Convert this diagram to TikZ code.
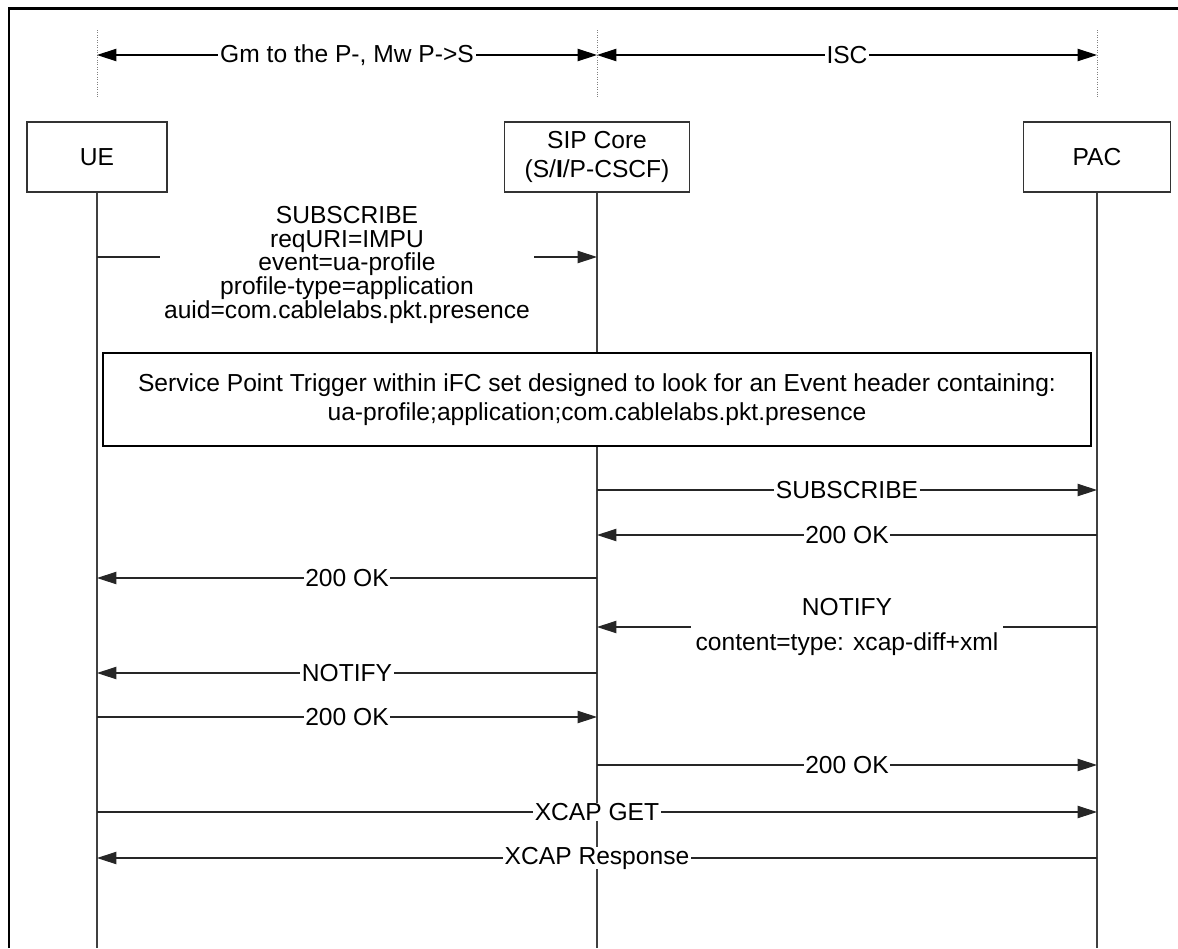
\documentclass[tikz,border=0pt]{standalone}
\usepackage{fontspec}
\setmainfont{Liberation Sans}
\usetikzlibrary{arrows.meta,shadows}
\begin{document}
\begin{tikzpicture}[x=0.02cm, y=-0.02cm,
  font=\fontsize{14}{16.2}\selectfont,
  actor/.style={draw=black!80, line width=0.6pt, fill=white, align=center, minimum height=1.4cm},
  life/.style={draw=black!75, line width=0.6pt},
  tick/.style={draw=gray, line width=0.4pt, densely dotted},
  msg/.style={draw=black!85, line width=0.6pt, -{Triangle[length=11pt,width=7pt]}},
  span/.style={draw=black, line width=0.6pt, {Triangle[length=11pt,width=7pt]}-{Triangle[length=11pt,width=7pt]}},
  lbl/.style={fill=white, inner xsep=1pt, inner ysep=0pt},
  mlbl/.style={fill=white, align=center, inner xsep=2.5pt, inner ysep=1pt},
  note/.style={draw=black, line width=0.7pt, fill=white, align=center,
    font=\fontsize{14}{16.6}\selectfont,
    drop shadow={shadow xshift=0.8pt, shadow yshift=-0.8pt, fill=black, opacity=1}}]
\useasboundingbox (0,0) rectangle (1178,948);

% Frame
\draw[line width=1.7pt] (9,948) -- (9,8) -- (1178,8);

% Interfaces
\foreach \n/\x in {ue/97, core/597, pac/1097} {
  \coordinate (\n-top) at (\x,30);
  \coordinate (\n-bot) at (\x,98);
  \coordinate (\n-dim) at (\x,55);
  \coordinate (\n-end) at (\x,948);
}
\foreach \n in {ue, core, pac} \draw[tick] (\n-top) -- (\n-bot);
\draw[span] (ue-dim) -- node[lbl] {Gm to the P-, Mw P->S} (core-dim);
\draw[span] (core-dim) -- node[lbl] {ISC} (pac-dim);

% Entities
\node[actor, minimum width=2.8cm] (ue) at (97,157) {UE};
\node[actor, minimum width=3.7cm] (core) at (597,157) {SIP Core\\(S/\textbf{I}/P-CSCF)};
\node[actor, minimum width=2.94cm] (pac) at (1097,157) {PAC};

% Lifelines
\draw[life] (ue) -- (ue-end);
\draw[life] (core) -- (core-end);
\draw[life] (pac) -- (pac-end);

% Message rows
\foreach \r/\y in {a/257, b/490, c/535, d/578, e/627, f/673, g/717, h/765, i/812, j/858} {
  \coordinate (ue-\r) at (97,\y);
  \coordinate (core-\r) at (597,\y);
  \coordinate (pac-\r) at (1097,\y);
}

\draw[msg] (ue-a) -- node[mlbl, yshift=-4.5pt, font=\fontsize{14}{13.6}\selectfont]
  {SUBSCRIBE\\reqURI=IMPU\\event=ua-profile\\profile-type=application\\auid=com.cablelabs.pkt.presence} (core-a);

% Trigger
\node[note, minimum width=19.76cm, minimum height=1.86cm] (spt) at (597,399.5)
  {Service Point Trigger within iFC set designed to look for an Event header containing:\\ua-profile;application;com.cablelabs.pkt.presence};

\draw[msg] (core-b) -- node[lbl] {SUBSCRIBE} (pac-b);
\draw[msg] (pac-c) -- node[lbl] {200 OK} (core-c);
\draw[msg] (core-d) -- node[lbl] {200 OK} (ue-d);
\draw[msg] (pac-e) -- node[mlbl, font=\fontsize{14}{19.8}\selectfont] {NOTIFY\\content=type: xcap-diff+xml} (core-e);
\draw[msg] (core-f) -- node[lbl] {NOTIFY} (ue-f);
\draw[msg] (ue-g) -- node[lbl] {200 OK} (core-g);
\draw[msg] (core-h) -- node[lbl] {200 OK} (pac-h);
\draw[msg] (ue-i) -- node[lbl] {XCAP GET} (pac-i);
\draw[msg] (pac-j) -- node[lbl] {XCAP Response} (ue-j);
\end{tikzpicture}
\end{document}
